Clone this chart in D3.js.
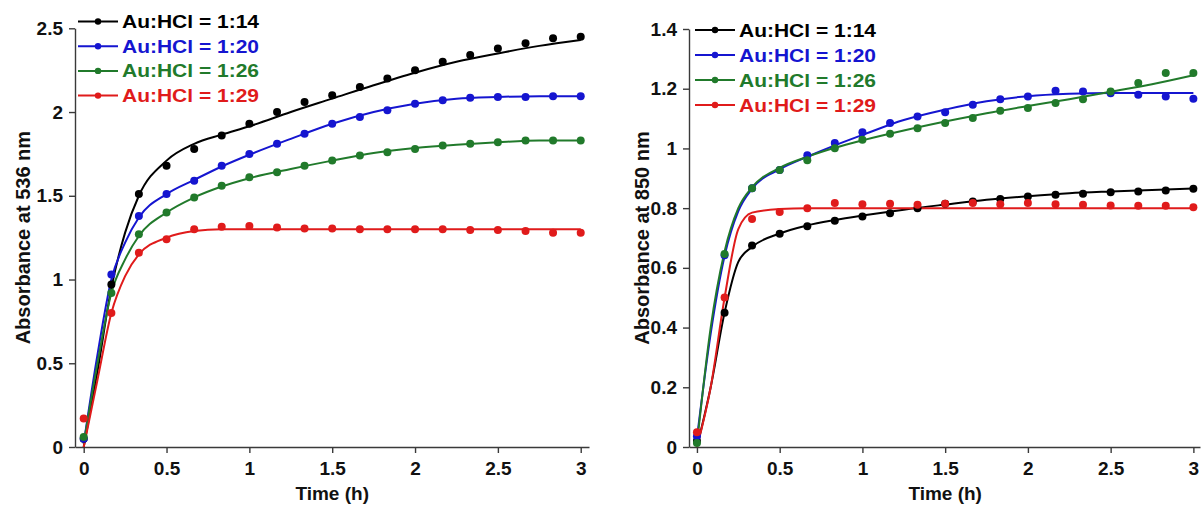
<!DOCTYPE html>
<html>
<head>
<meta charset="utf-8">
<script src="https://cdn.jsdelivr.net/npm/d3@7"></script>
<style>
  html, body { margin: 0; padding: 0; background: #fff; }
  svg { display: block; }
  text { font-family: "Liberation Sans", Arial, sans-serif; font-weight: bold; }
</style>
</head>
<body>
<svg id="chart" width="1204" height="508"></svg>
<script>
// Sampling times (h) of the measured absorbance points
const times = [0, 0.167, 0.333, 0.5, 0.667, 0.833, 1, 1.167, 1.333, 1.5, 1.667, 1.833, 2, 2.167, 2.333, 2.5, 2.667, 2.833, 3];
// Times at which the fitted kinetic curves are evaluated
const fitTimes = [0, 0.083, 0.167, 0.25, 0.333, 0.5, 0.667, 0.833, 1, 1.25, 1.5, 1.75, 2, 2.25, 2.5, 2.75, 3];

const seriesNames = ["Au:HCl = 1:14", "Au:HCl = 1:20", "Au:HCl = 1:26", "Au:HCl = 1:29"];
const seriesColors = ["#000000", "#1515d0", "#217a2b", "#e01b1b"];

// Absorbance at 536 nm (measured)
const a536_14 = [0.05, 0.97, 1.51, 1.68, 1.78, 1.86, 1.93, 2.00, 2.06, 2.10, 2.15, 2.20, 2.25, 2.30, 2.34, 2.38, 2.41, 2.44, 2.45];
const a536_20 = [0.05, 1.03, 1.38, 1.51, 1.59, 1.68, 1.75, 1.81, 1.87, 1.93, 1.97, 2.01, 2.05, 2.07, 2.085, 2.09, 2.09, 2.095, 2.095];
const a536_26 = [0.06, 0.92, 1.27, 1.40, 1.49, 1.56, 1.61, 1.64, 1.68, 1.71, 1.74, 1.76, 1.78, 1.80, 1.81, 1.82, 1.83, 1.83, 1.83];
const a536_29 = [0.17, 0.80, 1.16, 1.24, 1.30, 1.315, 1.32, 1.31, 1.305, 1.305, 1.30, 1.30, 1.30, 1.30, 1.295, 1.295, 1.29, 1.28, 1.28];
// Absorbance at 536 nm (fit)
const f536_14 = [0.0, 0.45, 0.95, 1.28, 1.50, 1.71, 1.81, 1.865, 1.915, 2.00, 2.08, 2.16, 2.235, 2.30, 2.35, 2.395, 2.43];
const f536_20 = [0.02, 0.55, 1.00, 1.22, 1.37, 1.51, 1.595, 1.675, 1.745, 1.84, 1.93, 2.00, 2.05, 2.08, 2.09, 2.095, 2.095];
const f536_26 = [0.02, 0.50, 0.92, 1.12, 1.26, 1.40, 1.49, 1.555, 1.605, 1.66, 1.71, 1.755, 1.785, 1.805, 1.82, 1.83, 1.83];
const f536_29 = [0.0, 0.40, 0.80, 1.02, 1.15, 1.25, 1.29, 1.30, 1.30, 1.30, 1.30, 1.30, 1.30, 1.30, 1.30, 1.30, 1.30];

// Absorbance at 850 nm (measured)
const a850_14 = [0.02, 0.45, 0.675, 0.714, 0.739, 0.758, 0.772, 0.783, 0.800, 0.815, 0.822, 0.831, 0.839, 0.845, 0.848, 0.853, 0.856, 0.859, 0.865];
const a850_20 = [0.036, 0.642, 0.867, 0.928, 0.977, 1.018, 1.054, 1.085, 1.107, 1.121, 1.146, 1.165, 1.174, 1.193, 1.191, 1.185, 1.180, 1.174, 1.166];
const a850_26 = [0.013, 0.646, 0.867, 0.928, 0.960, 1.001, 1.029, 1.049, 1.068, 1.085, 1.102, 1.126, 1.135, 1.152, 1.165, 1.191, 1.219, 1.253, 1.253];
const a850_29 = [0.049, 0.501, 0.764, 0.787, 0.800, 0.817, 0.813, 0.815, 0.811, 0.815, 0.817, 0.813, 0.817, 0.813, 0.811, 0.809, 0.808, 0.808, 0.803];
// Absorbance at 850 nm (fit)
const f850_14 = [0.0, 0.20, 0.45, 0.62, 0.67, 0.715, 0.742, 0.76, 0.775, 0.795, 0.812, 0.828, 0.84, 0.85, 0.856, 0.861, 0.866];
const f850_20 = [0.03, 0.38, 0.64, 0.79, 0.865, 0.93, 0.972, 1.01, 1.045, 1.095, 1.13, 1.158, 1.175, 1.183, 1.186, 1.186, 1.186];
const f850_26 = [0.01, 0.40, 0.655, 0.80, 0.87, 0.935, 0.972, 1.002, 1.027, 1.06, 1.09, 1.118, 1.142, 1.165, 1.19, 1.215, 1.245];
const f850_29 = [0.0, 0.20, 0.50, 0.73, 0.785, 0.797, 0.80, 0.80, 0.80, 0.80, 0.80, 0.80, 0.80, 0.80, 0.80, 0.80, 0.80];

const xTicks = [0, 0.5, 1, 1.5, 2, 2.5, 3];
const yTicks536 = [0, 0.5, 1, 1.5, 2, 2.5];
const yTicks850 = [0, 0.2, 0.4, 0.6, 0.8, 1, 1.2, 1.4];

const svg = d3.select("#chart");

function panel(opts) {
  const x = d3.scaleLinear().domain(opts.xDomain).range(opts.xRange);
  const y = d3.scaleLinear().domain(opts.yDomain).range([447, opts.yTop]);
  const g = svg.append("g");

  // axes
  const yAxis = d3.axisLeft(y).tickValues(opts.yTicks).tickSize(6).tickSizeOuter(0).tickPadding(6)
    .tickFormat(d3.format("~g"));
  const gy = g.append("g").attr("transform", `translate(${opts.xRange[0]},0)`).call(yAxis);
  const xAxis = d3.axisBottom(x).tickValues(xTicks).tickSize(6).tickSizeOuter(0).tickPadding(9)
    .tickFormat(d3.format("~g"));
  const gx = g.append("g").attr("transform", `translate(0,${y(0)})`).call(xAxis);
  [gx, gy].forEach(a => {
    a.selectAll("path.domain").attr("stroke", "#3a3a3a").attr("stroke-width", 1.4);
    a.selectAll(".tick line").attr("stroke", "#3a3a3a").attr("stroke-width", 1.4);
    a.selectAll(".tick text").attr("fill", "#111").style("font-size", "19px")
      .style("font-family", '"Liberation Sans", Arial, sans-serif').style("font-weight", "bold");
  });

  // axis titles
  g.append("text")
    .attr("x", (x(0) + x(3)) / 2).attr("y", 500)
    .attr("text-anchor", "middle").style("font-size", "19px").attr("fill", "#111")
    .text("Time (h)");
  g.append("text")
    .attr("transform", `translate(${opts.yTitleX},${(y(0) + y(opts.yDomain[1])) / 2}) rotate(-90)`)
    .attr("text-anchor", "middle").style("font-size", "20px").attr("fill", "#111")
    .text(opts.yTitle);

  // fitted curves
  const line = d3.line().x((d, i) => x(fitTimes[i])).y(d => y(d)).curve(d3.curveMonotoneX);
  opts.fits.forEach((f, k) => {
    g.append("path").datum(f).attr("d", line)
      .attr("fill", "none").attr("stroke", seriesColors[k]).attr("stroke-width", 2);
  });

  // measured points
  opts.data.forEach((s, k) => {
    g.append("g").selectAll("circle").data(s).join("circle")
      .attr("cx", (d, i) => x(times[i])).attr("cy", d => y(d)).attr("r", 4)
      .attr("fill", seriesColors[k]);
  });

  // legend
  const lg = g.append("g");
  seriesNames.forEach((name, k) => {
    const ly = opts.legY + k * opts.legStep;
    lg.append("line").attr("x1", opts.legX).attr("x2", opts.legX + 40)
      .attr("y1", ly).attr("y2", ly).attr("stroke", seriesColors[k]).attr("stroke-width", 2);
    lg.append("circle").attr("cx", opts.legX + 20).attr("cy", ly).attr("r", 3.2).attr("fill", seriesColors[k]);
    lg.append("text")
      .attr("transform", `translate(${opts.legX + 44},${ly + 6.5}) scale(1.2,1)`)
      .style("font-size", "17.5px").attr("fill", seriesColors[k])
      .text(name);
  });
}

panel({
  xDomain: [-0.0525, 3.05], xRange: [75, 589],
  yDomain: [0, 2.5], yTop: 28.3, yTicks: yTicks536,
  yTitle: "Absorbance at 536 nm", yTitleX: 30,
  data: [a536_14, a536_20, a536_26, a536_29],
  fits: [f536_14, f536_20, f536_26, f536_29],
  legX: 78, legY: 21.5, legStep: 24.7
});

panel({
  xDomain: [-0.048, 3.04], xRange: [689, 1200],
  yDomain: [0, 1.4], yTop: 29, yTicks: yTicks850,
  yTitle: "Absorbance at 850 nm", yTitleX: 649,
  data: [a850_14, a850_20, a850_26, a850_29],
  fits: [f850_14, f850_20, f850_26, f850_29],
  legX: 695, legY: 30, legStep: 25
});
</script>
</body>
</html>
